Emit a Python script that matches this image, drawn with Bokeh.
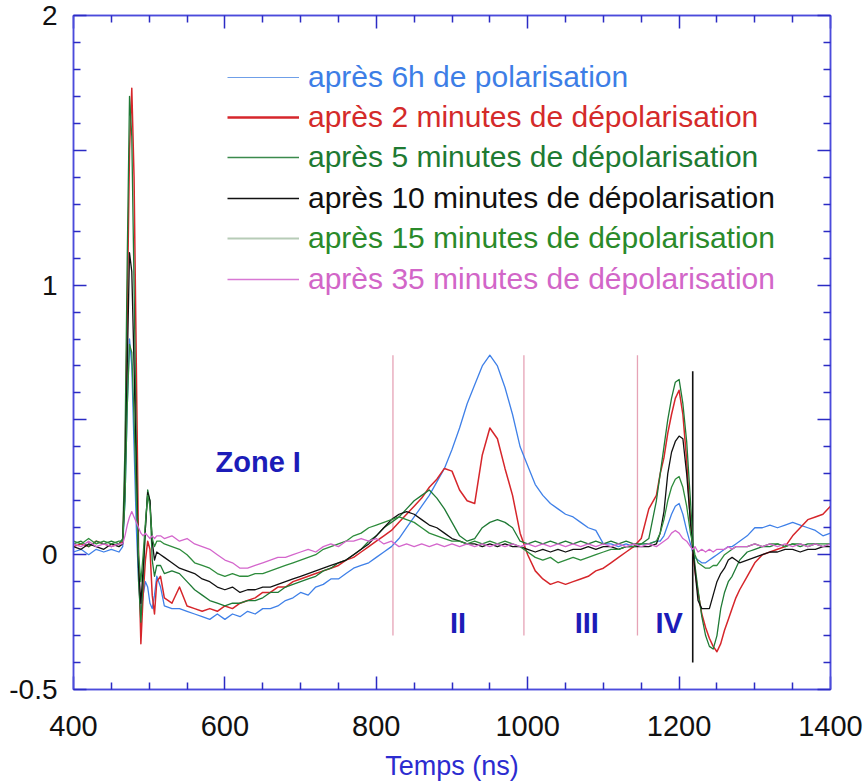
import math
from bokeh.plotting import figure
from bokeh.models import (Range1d, LinearAxis, FixedTicker, Legend, LegendItem,
                          Label, ColumnDataSource)
from bokeh.embed import file_html
from bokeh.resources import INLINE
from bokeh.core.properties import value

# ---------------- data ----------------
temps = [400, 410, 420, 430, 440, 450, 460,
         465, 468, 471, 474, 477, 480, 483, 486, 489, 492, 495, 498, 501, 504, 507, 510,
         515, 520, 530, 540, 550, 560, 570, 580, 590, 600, 610, 620, 630, 640, 650, 660, 670, 680, 690, 700,
         710, 720, 730, 740, 750, 760, 770, 780, 790, 800, 810, 820, 830, 840, 850, 860, 870, 880, 890, 900,
         910, 920, 930, 940, 950, 960, 970, 980, 990, 1000, 1010, 1020, 1030, 1040, 1050, 1060, 1070, 1080, 1090, 1100,
         1110, 1120, 1130, 1140, 1150, 1160, 1170,
         1175, 1180, 1185, 1190, 1195, 1200, 1205, 1210, 1215,
         1218, 1221, 1225,
         1230, 1235, 1240, 1245, 1250, 1255, 1260, 1265, 1270, 1275, 1280,
         1290, 1300, 1310, 1320, 1330, 1340, 1350, 1360, 1370, 1380, 1390, 1400]

pol_6h = [0.01, 0.02, 0.00, 0.02, 0.01, 0.02, 0.01,
          0.03, 0.20, 0.55, 0.80, 0.70, 0.40, 0.10, -0.10, -0.22, -0.15, -0.10, -0.12, -0.18, -0.20, -0.15, -0.08,
          -0.12, -0.19, -0.20, -0.20, -0.21, -0.22, -0.23, -0.24, -0.22, -0.24, -0.22, -0.23, -0.21, -0.22, -0.20, -0.20, -0.19, -0.17, -0.16, -0.14,
          -0.15, -0.12, -0.11, -0.09, -0.09, -0.07, -0.05, -0.04, -0.03, -0.01, 0.01, 0.03, 0.06, 0.10, 0.14, 0.18, 0.22, 0.27, 0.32, 0.39,
          0.47, 0.56, 0.63, 0.70, 0.74, 0.70, 0.62, 0.52, 0.40, 0.33, 0.26, 0.22, 0.19, 0.17, 0.15, 0.14, 0.12, 0.10, 0.09, 0.04,
          0.04, 0.03, 0.04, 0.03, 0.04, 0.04, 0.05,
          0.05, 0.07, 0.11, 0.15, 0.18, 0.19, 0.15, 0.09, 0.04,
          0.01, -0.01, -0.02,
          -0.03, -0.03, -0.02, -0.01, 0.00, 0.01, 0.02, 0.03, 0.03, 0.04, 0.05,
          0.07, 0.10, 0.10, 0.11, 0.10, 0.11, 0.12, 0.11, 0.10, 0.09, 0.07, 0.08]

depol_2 = [0.03, 0.04, 0.03, 0.05, 0.04, 0.03, 0.04,
           0.05, 0.30, 0.90, 1.50, 1.73, 1.40, 0.70, 0.00, -0.33, -0.15, -0.02, 0.05, 0.02, -0.15, -0.22, -0.10,
           -0.08, -0.16, -0.18, -0.12, -0.19, -0.20, -0.21, -0.20, -0.21, -0.19, -0.20, -0.18, -0.17, -0.16, -0.14, -0.14, -0.12, -0.12, -0.10, -0.09,
           -0.08, -0.07, -0.06, -0.05, -0.04, -0.02, -0.01, 0.01, 0.03, 0.05, 0.07, 0.09, 0.12, 0.15, 0.18, 0.21, 0.25, 0.28, 0.32, 0.31,
           0.24, 0.20, 0.19, 0.37, 0.47, 0.43, 0.32, 0.22, 0.08, 0.00, -0.06, -0.09, -0.11, -0.10, -0.11, -0.10, -0.09, -0.08, -0.06, -0.05,
           -0.03, -0.01, 0.01, 0.03, 0.06, 0.17, 0.22,
           0.30, 0.36, 0.45, 0.52, 0.58, 0.61, 0.52, 0.35, 0.12,
           0.03, -0.06, -0.14,
           -0.22, -0.27, -0.31, -0.34, -0.36, -0.33, -0.28, -0.24, -0.20, -0.16, -0.13,
           -0.08, -0.03, 0.00, 0.01, 0.02, 0.03, 0.07, 0.10, 0.13, 0.14, 0.15, 0.18]

depol_5 = [0.04, 0.05, 0.03, 0.05, 0.04, 0.05, 0.04,
           0.06, 0.40, 1.10, 1.70, 1.55, 1.00, 0.40, -0.10, -0.25, -0.10, 0.10, 0.24, 0.20, -0.02, -0.08, -0.04,
           -0.04, -0.07, -0.06, -0.07, -0.10, -0.13, -0.15, -0.17, -0.18, -0.19, -0.18, -0.18, -0.17, -0.17, -0.16, -0.14, -0.14, -0.12, -0.11, -0.10,
           -0.09, -0.08, -0.06, -0.05, -0.03, -0.02, 0.00, 0.02, 0.05, 0.07, 0.10, 0.12, 0.14, 0.17, 0.20, 0.22, 0.24, 0.21, 0.17, 0.12,
           0.07, 0.05, 0.06, 0.10, 0.12, 0.13, 0.12, 0.10, 0.05, 0.04, 0.05, 0.04, 0.05, 0.04, 0.05, 0.04, 0.05, 0.04, 0.05, 0.04,
           0.05, 0.04, 0.05, 0.04, 0.04, 0.06, 0.20,
           0.30, 0.40, 0.50, 0.58, 0.64, 0.65, 0.56, 0.42, 0.20,
           0.06, -0.04, -0.13,
           -0.23, -0.30, -0.34, -0.35, -0.30, -0.20, -0.14, -0.10, -0.08, -0.05, -0.02,
           0.01, 0.02, 0.03, 0.03, 0.04, 0.03, 0.04, 0.03, 0.04, 0.04, 0.03, 0.04]

depol_10 = [0.03, 0.02, 0.04, 0.03, 0.02, 0.04, 0.03,
            0.04, 0.25, 0.70, 1.12, 1.05, 0.70, 0.30, -0.05, -0.18, -0.05, 0.10, 0.23, 0.20, 0.05, -0.02, 0.01,
            0.00, -0.01, -0.03, -0.05, -0.06, -0.07, -0.09, -0.10, -0.12, -0.13, -0.12, -0.14, -0.13, -0.13, -0.12, -0.12, -0.11, -0.10, -0.09, -0.08,
            -0.07, -0.06, -0.05, -0.04, -0.03, -0.02, 0.00, 0.02, 0.04, 0.07, 0.10, 0.13, 0.15, 0.16, 0.15, 0.13, 0.11, 0.10, 0.08, 0.06,
            0.05, 0.04, 0.04, 0.03, 0.04, 0.03, 0.04, 0.03, 0.03, 0.02, 0.01, 0.02, 0.01, 0.02, 0.01, 0.02, 0.02, 0.03, 0.02, 0.03,
            0.03, 0.02, 0.03, 0.03, 0.03, 0.03, 0.04,
            0.08, 0.16, 0.30, 0.38, 0.42, 0.44, 0.43, 0.30, 0.12,
            0.02, -0.06, -0.17,
            -0.20, -0.20, -0.20, -0.15, -0.10, -0.07, -0.05, -0.02, -0.01, -0.02, -0.03,
            -0.02, -0.01, 0.00, 0.01, 0.01, 0.02, 0.02, 0.01, 0.02, 0.02, 0.03, 0.03]

depol_15 = [0.05, 0.04, 0.06, 0.04, 0.05, 0.04, 0.05,
            0.05, 0.20, 0.55, 0.78, 0.75, 0.50, 0.20, 0.00, -0.10, 0.00, 0.12, 0.22, 0.18, 0.06, 0.03, 0.05,
            0.05, 0.04, 0.03, 0.02, 0.00, -0.03, -0.04, -0.05, -0.07, -0.08, -0.07, -0.08, -0.08, -0.07, -0.07, -0.06, -0.05, -0.04, -0.03, -0.02,
            -0.01, 0.00, 0.02, 0.03, 0.04, 0.05, 0.07, 0.08, 0.10, 0.11, 0.12, 0.13, 0.14, 0.13, 0.12, 0.10, 0.08, 0.07, 0.06, 0.05,
            0.05, 0.04, 0.05, 0.04, 0.05, 0.04, 0.05, 0.04, 0.03, 0.01, -0.01, -0.02, -0.01, -0.03, -0.02, -0.01, -0.02, -0.01, 0.00, 0.01,
            0.02, 0.02, 0.03, 0.03, 0.04, 0.04, 0.05,
            0.08, 0.13, 0.20, 0.25, 0.28, 0.29, 0.25, 0.18, 0.08,
            0.04, 0.00, -0.03,
            -0.04, -0.05, -0.05, -0.04, -0.04, -0.02, 0.00, 0.01, 0.02, 0.03, 0.03,
            0.03, 0.04, 0.03, 0.04, 0.04, 0.03, 0.04, 0.04, 0.03, 0.04, 0.04, 0.04]

depol_35 = [0.04, 0.03, 0.05, 0.03, 0.04, 0.03, 0.04,
            0.04, 0.07, 0.11, 0.14, 0.16, 0.14, 0.12, 0.10, 0.08, 0.07, 0.08, 0.07, 0.06, 0.07, 0.06, 0.07,
            0.07, 0.06, 0.07, 0.05, 0.06, 0.04, 0.03, 0.02, 0.00, -0.02, -0.03, -0.05, -0.05, -0.04, -0.03, -0.02, -0.01, -0.01, 0.00, 0.01,
            0.02, 0.01, 0.03, 0.04, 0.03, 0.05, 0.05, 0.06, 0.05, 0.06, 0.04, 0.05, 0.03, 0.04, 0.03, 0.04, 0.03, 0.04, 0.03, 0.04,
            0.03, 0.04, 0.03, 0.04, 0.03, 0.04, 0.03, 0.04, 0.03, 0.04, 0.03, 0.04, 0.03, 0.04, 0.03, 0.04, 0.03, 0.04, 0.03, 0.04,
            0.03, 0.04, 0.03, 0.04, 0.03, 0.04, 0.03,
            0.04, 0.05, 0.06, 0.08, 0.09, 0.08, 0.06, 0.05, 0.03,
            0.02, 0.03, 0.01,
            0.02, 0.01, 0.02, 0.01, 0.02, 0.02, 0.02, 0.03, 0.02, 0.03, 0.03,
            0.03, 0.04, 0.03, 0.04, 0.03, 0.04, 0.03, 0.04, 0.03, 0.04, 0.03, 0.04]

series_labels = ["après 6h de polarisation",
                 "après 2 minutes de dépolarisation",
                 "après 5 minutes de dépolarisation",
                 "après 10 minutes de dépolarisation",
                 "après 15 minutes de dépolarisation",
                 "après 35 minutes de dépolarisation"]
series_values = [pol_6h, depol_2, depol_5, depol_10, depol_15, depol_35]

# zone separators and labels
zone_bounds = [822, 995, 1145]
zone_bound_top = [0.74, 0.74, 0.74]
zone_bound_bottom = [-0.30, -0.30, -0.30]
edge_x = [1218]
edge_top = [0.68]
edge_bottom = [-0.40]
zone_text = ["Zone I", "II", "III", "IV"]
zone_text_x = [644, 908, 1078, 1187]
zone_text_y = [0.345, -0.255, -0.255, -0.255]

x_major = [400, 600, 800, 1000, 1200, 1400]
x_minor = [450, 500, 550, 650, 700, 750, 850, 900, 950, 1050, 1100, 1150, 1250, 1300, 1350]
y_major = [-0.5, 0, 0.5, 1, 1.5, 2]
y_minor = [-0.4, -0.3, -0.2, -0.1, 0.1, 0.2, 0.3, 0.4, 0.6, 0.7, 0.8, 0.9,
           1.1, 1.2, 1.3, 1.4, 1.6, 1.7, 1.8, 1.9]
y_labels = {-0.5: "-0.5", 0: "0", 0.5: "", 1: "1", 1.5: "", 2: "2"}

# ---------------- styles ----------------
FONT = "Liberation Sans"
line_colors = ["#3f80e8", "#d6262b", "#1f7a35", "#111111", "#2e8c3c", "#d466cc"]
legend_line_colors = ["#6f9fe8", "#d6262b", "#3b8a4c", "#111111", "#b7ccb7", "#d878d4"]
legend_line_widths = [1.2, 2.6, 1.6, 1.6, 1.8, 1.4]
text_colors = ["#3d7ee6", "#d42a2a", "#1e7a32", "#111111", "#2a8a2a", "#d266c8"]
line_widths = [1.3, 1.5, 1.3, 1.3, 1.3, 1.3]
axis_color = "#4b4bdc"
tick_color = "#2b2bc4"

p = figure(width=866, height=783, output_backend="svg", toolbar_location=None,
           x_range=Range1d(400, 1400), y_range=Range1d(-0.5, 2),
           x_axis_location=None, y_axis_location=None,
           min_border_left=73, min_border_right=36, min_border_top=15,
           min_border_bottom=93)
p.grid.visible = False
p.outline_line_color = axis_color
p.outline_line_width = 1.5
p.background_fill_color = "white"
p.border_fill_color = "white"


def make_axis(ticker, show_labels, **kw):
    ax = LinearAxis(ticker=ticker, **kw)
    ax.axis_line_color = axis_color
    ax.axis_line_width = 1.5
    ax.major_tick_line_color = tick_color
    ax.minor_tick_line_color = tick_color
    ax.major_tick_line_width = 1.5
    ax.minor_tick_line_width = 1.5
    ax.major_tick_in = 13
    ax.major_tick_out = 0
    ax.minor_tick_in = 7
    ax.minor_tick_out = 0
    ax.major_label_text_font = FONT
    ax.major_label_text_color = "#111111"
    ax.major_label_text_font_size = "29px"
    if not show_labels:
        ax.major_label_text_font_size = "0px"
        ax.major_label_text_alpha = 0
        ax.major_label_standoff = 0
    return ax


xt = FixedTicker(ticks=x_major, minor_ticks=x_minor)
yt = FixedTicker(ticks=y_major, minor_ticks=y_minor)

xb = make_axis(xt, True, axis_label="Temps (ns)")
xb.major_label_standoff = 26
xb.axis_label_standoff = 12
xb.axis_label_text_font = FONT
xb.axis_label_text_font_style = "normal"
xb.axis_label_text_font_size = "27px"
xb.axis_label_text_color = "#2c2cd0"
p.add_layout(xb, "below")

xa = make_axis(xt, False)
p.add_layout(xa, "above")

yl = make_axis(yt, True)
yl.major_label_overrides = y_labels
yl.major_label_text_font_size = "28px"
yl.major_label_standoff = 16
p.add_layout(yl, "left")

yr = make_axis(yt, False)
p.add_layout(yr, "right")

# zone separators
p.segment(x0=zone_bounds, y0=zone_bound_bottom, x1=zone_bounds, y1=zone_bound_top,
          line_color="#e6a3b6", line_width=1.3)
p.segment(x0=edge_x, y0=edge_bottom, x1=edge_x, y1=edge_top,
          line_color="#111111", line_width=1.6)

# curves
src = ColumnDataSource(data=dict(t=temps, s0=pol_6h, s1=depol_2, s2=depol_5,
                                 s3=depol_10, s4=depol_15, s5=depol_35))
for i in range(len(series_values)):
    p.line(x="t", y=f"s{i}", source=src, line_color=line_colors[i],
           line_width=line_widths[i], line_join="round")

# zone labels
p.text(x=zone_text_x, y=zone_text_y, text=zone_text,
       text_font=value(FONT), text_font_style="bold",
       text_font_size=value("29px"), text_color="#1c1cb8",
       text_align="center", text_baseline="middle")

# y axis title (placed lower than frame centre as in the reference)
p.add_layout(Label(x=-37, y=0.54, x_units="screen", y_units="data",
                   text="Signal (mV)", angle=math.pi / 2,
                   text_font=FONT, text_font_style="bold", text_font_size="28px",
                   text_color="#1c1cc8", text_align="center",
                   text_baseline="middle"))

# legend: one Legend per row so each label has its own colour.
# The sample-line renderers hold a single point, so they draw nothing in the plot.
legend_rows_y = [595, 555, 515, 474, 434, 393]
for i, lab in enumerate(series_labels):
    r = p.line(x=temps[:1], y=series_values[i][:1], line_color=legend_line_colors[i],
               line_width=legend_line_widths[i])
    leg = Legend(items=[LegendItem(label=lab, renderers=[r])],
                 location=(154, legend_rows_y[i]),
                 label_text_font=FONT, label_text_font_size="30px",
                 label_text_color=text_colors[i],
                 glyph_width=72, glyph_height=30, label_height=30,
                 label_standoff=9, padding=0, margin=0, spacing=0,
                 border_line_color=None, background_fill_alpha=0)
    p.add_layout(leg)

open("out.html", "w").write(file_html(p, INLINE))
